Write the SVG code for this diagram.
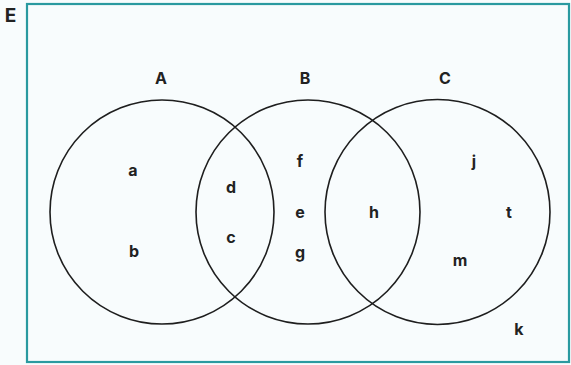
<svg xmlns="http://www.w3.org/2000/svg" width="571" height="365" viewBox="0 0 571 365">
<style>
.lbl{font-family:Inter,"Liberation Sans",sans-serif;font-weight:700;font-size:16px;fill:#222;text-anchor:middle}
.set{fill:none;stroke:#1e1e1e;stroke-width:1.6}
</style>
<rect x="0" y="0" width="571" height="365" fill="#f8fcfd"/>
<g id="universe">
<rect x="27" y="4" width="542" height="358" fill="none" stroke="#2a9aa0" stroke-width="2.2"/>
<text class="lbl" x="10.5" y="22" style="font-size:19px">E</text>
</g>
<g id="setA">
<circle class="set" cx="162" cy="212" r="112"/>
<text class="lbl" x="161" y="84">A</text>
</g>
<g id="setB">
<circle class="set" cx="308" cy="212" r="112"/>
<text class="lbl" x="305" y="84">B</text>
</g>
<g id="setC">
<circle class="set" cx="437.5" cy="212" r="112.5"/>
<text class="lbl" x="445" y="84">C</text>
</g>
<g id="elements">
<text class="lbl" x="133" y="176">a</text>
<text class="lbl" x="134" y="257">b</text>
<text class="lbl" x="231" y="193">d</text>
<text class="lbl" x="231" y="243">c</text>
<text class="lbl" x="300" y="167">f</text>
<text class="lbl" x="300" y="218">e</text>
<text class="lbl" x="300" y="258">g</text>
<text class="lbl" x="374" y="218">h</text>
<text class="lbl" x="474" y="167">j</text>
<text class="lbl" x="509" y="218">t</text>
<text class="lbl" x="460" y="266">m</text>
<text class="lbl" x="519" y="335">k</text>
</g>
</svg>
